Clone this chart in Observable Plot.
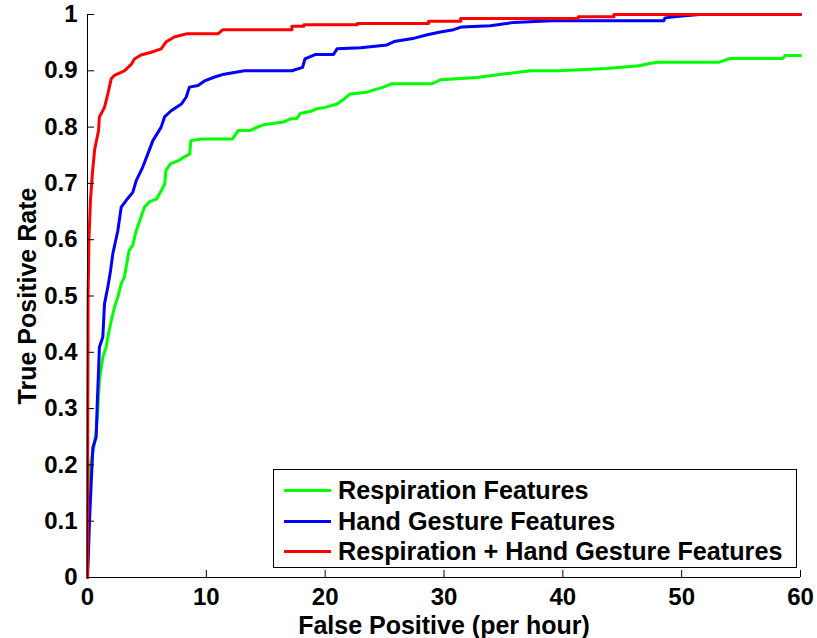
<!DOCTYPE html>
<html>
<head>
<meta charset="utf-8">
<script src="https://cdn.jsdelivr.net/npm/d3@7"></script>
<script src="https://cdn.jsdelivr.net/npm/@observablehq/plot@0.6"></script>
<style>
  body { margin: 0; background: #fff; }
  #wrap { position: relative; width: 817px; height: 638px; font-family: "Liberation Sans", Arial, sans-serif; font-weight: bold; }
  #legend { position: absolute; left: 273px; top: 469px; width: 522px; height: 97px; border: 1px solid #000; background: #fff; }
  .entry { position: absolute; left: 0; height: 28px; display: flex; align-items: center; font-size: 25.2px; color: #000; white-space: nowrap; }
  .swatch { display: inline-block; width: 47px; height: 3px; margin-left: 10px; margin-right: 7px; }
</style>
</head>
<body>
<div id="wrap"></div>
<script>
const seriesNames = ["Respiration Features", "Hand Gesture Features", "Respiration + Hand Gesture Features"];
const seriesColors = ["#00ff00", "#0000ff", "#ff0000"];

const greenX = [0,0.08,0.31,0.53,0.73,0.87,1.0,1.29,1.57,1.71,2.0,2.27,2.55,2.84,3.1,3.5,3.8,4.1,4.5,4.8,5.2,5.8,6.2,6.5,6.6,7.0,7.7,8.2,8.6,8.7,9.6,12.2,12.7,13.7,14.3,14.8,16.5,17.1,17.6,17.9,18.8,19.2,20.0,21.0,21.6,22.1,23.5,24.1,24.9,25.6,29.0,29.7,32.8,34.8,37.3,39.6,43.7,46.4,47.3,48.0,53.1,54.1,58.5,58.7,60];
const greenY = [0,0.178,0.208,0.231,0.261,0.297,0.35,0.391,0.409,0.427,0.456,0.48,0.498,0.522,0.533,0.581,0.59,0.616,0.64,0.658,0.667,0.672,0.687,0.699,0.723,0.735,0.741,0.748,0.752,0.776,0.779,0.779,0.794,0.794,0.80,0.804,0.809,0.815,0.815,0.824,0.828,0.832,0.835,0.841,0.85,0.859,0.862,0.866,0.871,0.877,0.877,0.884,0.888,0.894,0.90,0.90,0.904,0.909,0.913,0.915,0.915,0.922,0.922,0.927,0.927];

const blueX = [0,0.08,0.17,0.31,0.45,0.73,0.82,0.93,1.0,1.29,1.43,1.71,1.94,2.13,2.55,2.84,3.26,3.81,4.1,4.65,5.07,5.5,6.2,6.48,7.04,7.9,8.3,8.58,9.3,9.85,10.7,11.5,13.2,17.2,18.1,18.3,19.2,20.7,21.0,23.0,25.2,25.8,27.5,28.6,29.7,30.8,31.5,33.9,35.9,38.1,39.2,48.5,48.6,49.8,51.5,60];
const blueY = [0,0.043,0.10,0.167,0.231,0.249,0.309,0.368,0.409,0.427,0.486,0.516,0.545,0.575,0.616,0.658,0.67,0.684,0.705,0.729,0.752,0.776,0.80,0.818,0.829,0.841,0.853,0.871,0.874,0.882,0.889,0.894,0.90,0.90,0.906,0.921,0.929,0.929,0.939,0.941,0.946,0.952,0.958,0.964,0.969,0.973,0.978,0.98,0.986,0.988,0.989,0.989,0.994,0.997,1.0,1.0];

const redX = [0,0.02,0.05,0.12,0.25,0.42,0.6,0.93,1.0,1.43,1.71,2.0,2.27,3.1,3.7,3.95,4.5,5.36,6.2,6.6,7.3,8.4,11.0,11.4,17.2,17.2,18.2,18.2,22.7,22.7,28.7,28.7,31.4,31.4,41.3,41.3,44.3,44.3,60];
const redY = [0,0.3,0.5,0.6,0.67,0.72,0.76,0.794,0.818,0.835,0.859,0.886,0.892,0.90,0.912,0.921,0.928,0.933,0.939,0.951,0.96,0.966,0.966,0.973,0.973,0.979,0.979,0.982,0.982,0.984,0.984,0.988,0.988,0.993,0.993,0.996,0.996,1.0,1.0];

const xTicks = [0, 10, 20, 30, 40, 50, 60];
const yTicks = [0, 0.1, 0.2, 0.3, 0.4, 0.5, 0.6, 0.7, 0.8, 0.9, 1];
const xLabel = "False Positive (per hour)";
const yLabel = "True Positive Rate";

const seriesXY = [[greenX, greenY], [blueX, blueY], [redX, redY]];
const data = seriesXY.flatMap(([xs, ys], s) => xs.map((x, i) => ({series: seriesNames[s], x, y: ys[i]})));

const yFmt = d => (d === 0 || d === 1) ? String(d) : d.toFixed(1);

const chart = Plot.plot({
  width: 817,
  height: 638,
  marginLeft: 87,
  marginRight: 17,
  marginTop: 14,
  marginBottom: 61,
  style: {fontFamily: "'Liberation Sans', Arial, sans-serif", fontSize: "24px", fontWeight: "bold", color: "#000", background: "#fff"},
  x: {domain: [0, 60]},
  y: {domain: [0, 1]},
  color: {domain: seriesNames, range: seriesColors},
  marks: [
    Plot.line(data, {x: "x", y: "y", z: "series", stroke: "series", strokeWidth: 3, curve: "linear"}),
    Plot.ruleX([0], {stroke: "#000", strokeWidth: 1}),
    Plot.ruleY([0], {stroke: "#000", strokeWidth: 1}),
    Plot.axisX({ticks: xTicks, tickSize: -7, tickFormat: () => "", label: null}),
    Plot.axisY({ticks: yTicks, tickSize: -7, tickFormat: () => "", label: null}),
    Plot.axisX({ticks: xTicks, tickSize: 0, tickPadding: 10, tickFormat: d => String(d), label: null}),
    Plot.axisY({ticks: yTicks, tickSize: 0, tickPadding: 10, tickFormat: yFmt, label: null}),
    Plot.text([xLabel], {frameAnchor: "bottom", dy: 48, lineAnchor: "middle", textAnchor: "middle", text: d => d, fontSize: 25, fontWeight: "bold"}),
    Plot.text([yLabel], {frameAnchor: "left", dx: -60, lineAnchor: "middle", textAnchor: "middle", rotate: -90, text: d => d, fontSize: 25, fontWeight: "bold"})
  ]
});

const wrap = document.getElementById("wrap");
wrap.appendChild(chart);

const legend = document.createElement("div");
legend.id = "legend";
const entryTops = [6, 37, 67];
seriesNames.forEach((name, i) => {
  const e = document.createElement("div");
  e.className = "entry";
  e.style.top = entryTops[i] + "px";
  const sw = document.createElement("span");
  sw.className = "swatch";
  sw.style.background = seriesColors[i];
  const t = document.createElement("span");
  t.textContent = name;
  e.appendChild(sw);
  e.appendChild(t);
  legend.appendChild(e);
});
wrap.appendChild(legend);
</script>
</body>
</html>
